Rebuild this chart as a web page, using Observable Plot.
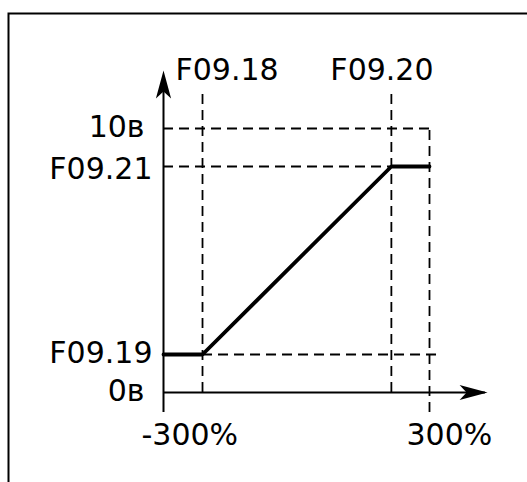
<!DOCTYPE html>
<html><head><meta charset="utf-8">
<script src="https://cdn.jsdelivr.net/npm/d3@7"></script>
<script src="https://cdn.jsdelivr.net/npm/@observablehq/plot@0.6"></script>
<style>body{margin:0;background:#fff} #chart svg{display:block}</style>
</head><body><div id="chart"></div>
<script>
// ---- data ----
const xTickValues = [-300, 300];
const xTickLabels = ["-300%", "300%"];
const paramXValues = [-212, 214];
const paramXLabels = ["F09.18", "F09.20"];
const yTickValues = [0, 1.44, 8.56, 10];
const yTickLabels = ["0в", "F09.19", "F09.21", "10в"];
const curveX = [-300, -212, 214, 300];
const curveY = [1.44, 1.44, 8.56, 8.56];

// axis extents (data units)
const yAxisTop = 12.2, yAxisBottom = -0.76, xAxisRight = 431, guideTop = 11.36, lowGuideRight = 327;

const curve = curveX.map((x, i) => ({x, y: curveY[i]}));
const FONT = "DejaVu Sans";
const FS = 30;
const dash = "10,6";

const stealthUp = {draw(ctx) { ctx.moveTo(0, 0); ctx.lineTo(7.6, 28); ctx.lineTo(0, 21); ctx.lineTo(-7.6, 28); ctx.closePath(); }};

function label(t, x, y, o) {
  return Plot.text([{x, y, t}], {x: "x", y: "y", text: "t", fontFamily: FONT, fontSize: FS, fill: "black", ...o});
}

const marks = [
  Plot.frame({stroke: "black", strokeWidth: 2, insetLeft: 8, insetTop: 13, insetRight: -10, insetBottom: -10}),
  // dashed guides
  Plot.ruleX(paramXValues, {y1: 0, y2: guideTop, stroke: "black", strokeWidth: 1.8, strokeDasharray: dash}),
  Plot.ruleX([xTickValues[1]], {y1: yAxisBottom, y2: yTickValues[3], stroke: "black", strokeWidth: 1.8, strokeDasharray: dash}),
  Plot.ruleY([yTickValues[3]], {x1: xTickValues[0], x2: xTickValues[1], stroke: "black", strokeWidth: 1.8, strokeDasharray: dash}),
  Plot.ruleY([yTickValues[2]], {x1: xTickValues[0], x2: paramXValues[1], stroke: "black", strokeWidth: 1.8, strokeDasharray: dash}),
  Plot.ruleY([yTickValues[1]], {x1: paramXValues[0], x2: lowGuideRight, stroke: "black", strokeWidth: 1.8, strokeDasharray: dash}),
  // axes
  Plot.ruleX([xTickValues[0]], {y1: yAxisBottom, y2: yAxisTop - 0.3, stroke: "black", strokeWidth: 2}),
  Plot.ruleY([0], {x1: xTickValues[0], x2: xAxisRight - 5, stroke: "black", strokeWidth: 2}),
  Plot.dot([{x: xTickValues[0], y: yAxisTop}], {x: "x", y: "y", symbol: stealthUp, fill: "black", stroke: null}),
  Plot.dot([{x: xAxisRight, y: 0}], {x: "x", y: "y", symbol: stealthUp, rotate: 90, fill: "black", stroke: null}),
  // curve
  Plot.line(curve, {x: "x", y: "y", stroke: "black", strokeWidth: 3.8, strokeLinejoin: "miter"}),
  // labels
  label(paramXLabels[0], paramXValues[0], guideTop, {textAnchor: "start", lineAnchor: "bottom", dx: -27, dy: -13}),
  label(paramXLabels[1], paramXValues[1], guideTop, {textAnchor: "start", lineAnchor: "bottom", dx: -61, dy: -13}),
  label(xTickLabels[0], xTickValues[0], 0, {textAnchor: "start", lineAnchor: "top", dx: -22, dy: 31}),
  label(xTickLabels[1], xTickValues[1], 0, {textAnchor: "start", lineAnchor: "top", dx: -23, dy: 31}),
  label(yTickLabels[0], xTickValues[0], yTickValues[0], {textAnchor: "end", lineAnchor: "middle", dx: -19, dy: -1}),
  label(yTickLabels[1], xTickValues[0], yTickValues[1], {textAnchor: "end", lineAnchor: "middle", dx: -11, dy: -1.5}),
  label(yTickLabels[2], xTickValues[0], yTickValues[2], {textAnchor: "end", lineAnchor: "middle", dx: -11, dy: 3}),
  label(yTickLabels[3], xTickValues[0], yTickValues[3], {textAnchor: "end", lineAnchor: "middle", dx: -19, dy: -1})
];

const chart = Plot.plot({
  width: 527, height: 482,
  marginLeft: 0, marginRight: 0, marginTop: 0, marginBottom: 0,
  x: {domain: [-300, 300], range: [163, 429], axis: null},
  y: {domain: [0, 10], range: [392, 128], axis: null},
  style: {background: "white", fontFamily: FONT},
  marks
});
document.getElementById("chart").appendChild(chart);
</script>
</body></html>
